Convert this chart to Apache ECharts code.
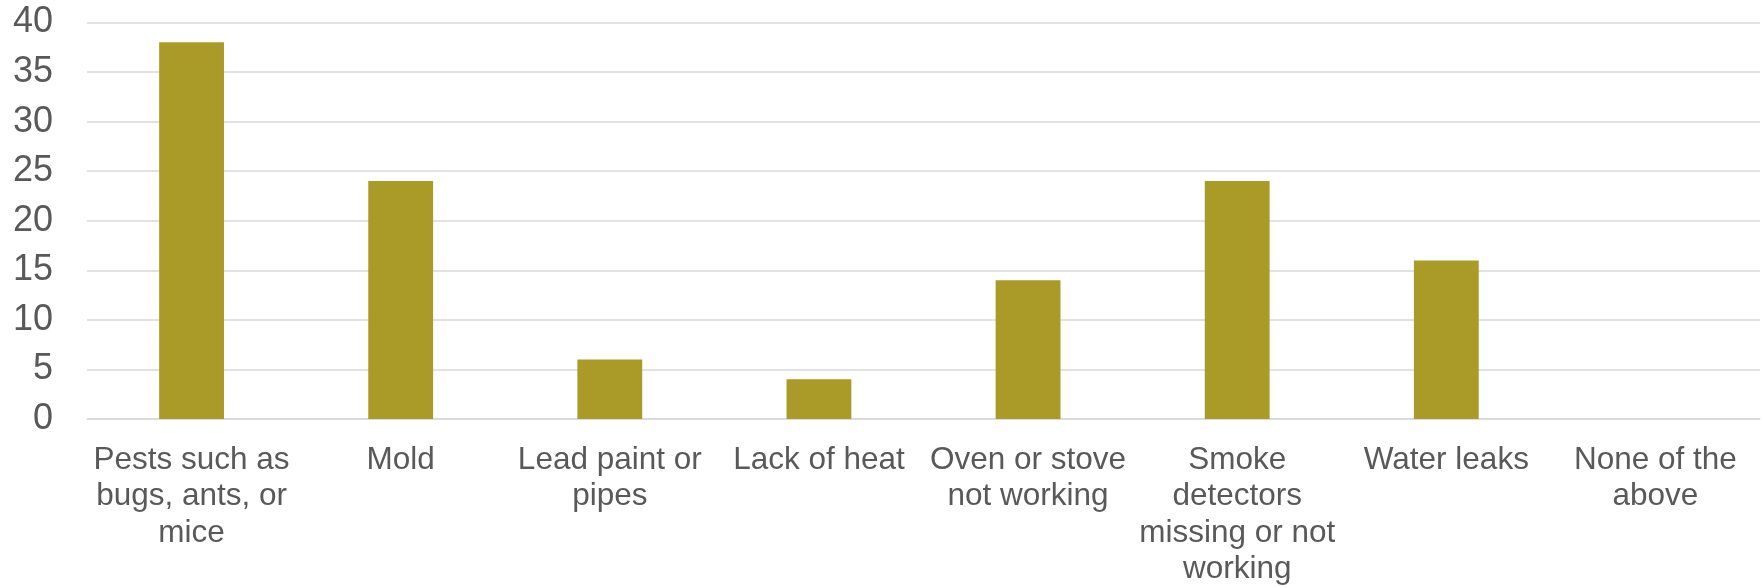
<!DOCTYPE html>
<html>
<head>
<meta charset="utf-8">
<style>
  html, body { margin: 0; padding: 0; background: #ffffff; }
  #chart { width: 1762px; height: 588px; }
</style>
<script src="https://cdn.jsdelivr.net/npm/echarts@6/dist/echarts.min.js"></script>
</head>
<body>
<div id="chart"></div>
<script>
const categories = [
  "Pests such as bugs, ants, or mice",
  "Mold",
  "Lead paint or pipes",
  "Lack of heat",
  "Oven or stove not working",
  "Smoke detectors missing or not working",
  "Water leaks",
  "None of the above"
];
const tickLabels = [
  "Pests such as\nbugs, ants, or\nmice",
  "Mold",
  "Lead paint or\npipes",
  "Lack of heat",
  "Oven or stove\nnot working",
  "Smoke\ndetectors\nmissing or not\nworking",
  "Water leaks",
  "None of the\nabove"
];
const values = [38, 24, 6, 4, 14, 24, 16, 0];
const yMin = 0, yMax = 40, yStep = 5;

const chart = echarts.init(document.getElementById('chart'), null, { renderer: 'canvas' });
chart.setOption({
  animation: false,
  backgroundColor: '#ffffff',
  grid: { left: 87, right: 2, top: 22.5, bottom: 165.5, containLabel: false },
  xAxis: {
    type: 'category',
    data: categories,
    axisLine: { show: true, lineStyle: { color: '#d9d9d9', width: 1.5 } },
    axisTick: { show: false },
    axisLabel: {
      interval: 0,
      margin: 23,
      color: '#595959',
      fontFamily: 'Liberation Sans, Arial, sans-serif',
      fontSize: 31.5,
      lineHeight: 36.5,
      align: 'center',
      formatter: (v, i) => tickLabels[i]
    }
  },
  yAxis: {
    type: 'value',
    min: yMin, max: yMax, interval: yStep,
    axisLine: { show: false },
    axisTick: { show: false },
    splitLine: { show: true, lineStyle: { color: '#d9d9d9', width: 1.5 } },
    axisLabel: {
      margin: 34,
      color: '#595959',
      fontFamily: 'Liberation Sans, Arial, sans-serif',
      fontSize: 36
    }
  },
  series: [{
    type: 'bar',
    data: values,
    barWidth: '31%',
    itemStyle: { color: '#aa9a27' }
  }]
});
</script>
</body>
</html>
